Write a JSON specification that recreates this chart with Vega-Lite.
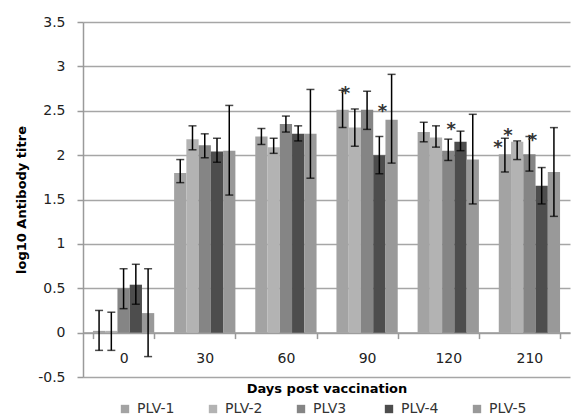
{
  "$schema": "https://vega.github.io/schema/vega-lite/v6.json",
  "width": 487,
  "height": 355,
  "autosize": "none",
  "padding": {"left": 83, "top": 22, "right": 1, "bottom": 40},
  "background": "white",
  "config": {
    "view": {"stroke": null},
    "font": "DejaVu Sans",
    "axis": {"labelFont": "DejaVu Sans", "titleFont": "DejaVu Sans"}
  },
  "datasets": {
    "bars": [
      {"day": "0", "series": "PLV-1", "value": 0.02, "lo": -0.2, "hi": 0.25},
      {"day": "0", "series": "PLV-2", "value": 0.02, "lo": -0.2, "hi": 0.23},
      {"day": "0", "series": "PLV3", "value": 0.5, "lo": 0.27, "hi": 0.72},
      {"day": "0", "series": "PLV-4", "value": 0.54, "lo": 0.32, "hi": 0.77},
      {"day": "0", "series": "PLV-5", "value": 0.22, "lo": -0.27, "hi": 0.72},
      {"day": "30", "series": "PLV-1", "value": 1.8, "lo": 1.69, "hi": 1.95},
      {"day": "30", "series": "PLV-2", "value": 2.18, "lo": 2.06, "hi": 2.33},
      {"day": "30", "series": "PLV3", "value": 2.11, "lo": 1.97, "hi": 2.24},
      {"day": "30", "series": "PLV-4", "value": 2.04, "lo": 1.92, "hi": 2.19},
      {"day": "30", "series": "PLV-5", "value": 2.05, "lo": 1.55, "hi": 2.56},
      {"day": "60", "series": "PLV-1", "value": 2.21, "lo": 2.12, "hi": 2.3},
      {"day": "60", "series": "PLV-2", "value": 2.09, "lo": 2.02, "hi": 2.19},
      {"day": "60", "series": "PLV3", "value": 2.35, "lo": 2.26, "hi": 2.44},
      {"day": "60", "series": "PLV-4", "value": 2.24, "lo": 2.16, "hi": 2.33},
      {"day": "60", "series": "PLV-5", "value": 2.24, "lo": 1.74, "hi": 2.74},
      {"day": "90", "series": "PLV-1", "value": 2.51, "lo": 2.31, "hi": 2.73},
      {"day": "90", "series": "PLV-2", "value": 2.31, "lo": 2.1, "hi": 2.52},
      {"day": "90", "series": "PLV3", "value": 2.51, "lo": 2.29, "hi": 2.72},
      {"day": "90", "series": "PLV-4", "value": 2.0, "lo": 1.79, "hi": 2.21},
      {"day": "90", "series": "PLV-5", "value": 2.4, "lo": 1.91, "hi": 2.91},
      {"day": "120", "series": "PLV-1", "value": 2.26, "lo": 2.15, "hi": 2.37},
      {"day": "120", "series": "PLV-2", "value": 2.2, "lo": 2.09, "hi": 2.33},
      {"day": "120", "series": "PLV3", "value": 2.05, "lo": 1.94, "hi": 2.18},
      {"day": "120", "series": "PLV-4", "value": 2.15, "lo": 2.05, "hi": 2.27},
      {"day": "120", "series": "PLV-5", "value": 1.95, "lo": 1.45, "hi": 2.46},
      {"day": "210", "series": "PLV-1", "value": 2.01, "lo": 1.81, "hi": 2.19},
      {"day": "210", "series": "PLV-2", "value": 2.15, "lo": 1.95, "hi": 2.16},
      {"day": "210", "series": "PLV3", "value": 2.01, "lo": 1.82, "hi": 2.21},
      {"day": "210", "series": "PLV-4", "value": 1.655, "lo": 1.45, "hi": 1.86},
      {"day": "210", "series": "PLV-5", "value": 1.81, "lo": 1.31, "hi": 2.31}
    ],
    "stars": [
      {"day": "90", "series": "PLV-1", "y": 2.74},
      {"day": "90", "series": "PLV-4", "y": 2.54},
      {"day": "120", "series": "PLV3", "y": 2.34},
      {"day": "210", "series": "PLV-1", "y": 2.27},
      {"day": "210", "series": "PLV3", "y": 2.22}
    ],
    "stars_left": [
      {"day": "210", "series": "PLV-1", "y": 2.14}
    ]
  },
  "encoding": {
    "x": {
      "field": "day",
      "type": "nominal",
      "sort": ["0", "30", "60", "90", "120", "210"],
      "scale": {"paddingInner": 0.245, "paddingOuter": 0.1225},
      "axis": {
        "title": "Days post vaccination",
        "titleFontSize": 13,
        "titleFontWeight": "bold",
        "titleColor": "#000000",
        "titlePadding": 17,
        "labelAngle": 0,
        "labelFontSize": 14,
        "labelColor": "#222222",
        "labelPadding": 13,
        "offset": -44.4,
        "tickBand": "extent",
        "tickSize": 6,
        "tickColor": "#9a9a9a",
        "tickWidth": 1.5,
        "domainColor": "#9a9a9a",
        "domainWidth": 1.5,
        "grid": false
      }
    },
    "xOffset": {
      "field": "series",
      "type": "nominal",
      "sort": ["PLV-1", "PLV-2", "PLV3", "PLV-4", "PLV-5"],
      "scale": {"paddingInner": 0, "paddingOuter": 0}
    }
  },
  "layer": [
    {
      "data": {"name": "bars"},
      "mark": {"type": "bar"},
      "encoding": {
        "y": {
          "field": "value",
          "type": "quantitative",
          "scale": {"domain": [-0.5, 3.5], "nice": false, "zero": false},
          "axis": {
            "title": "log10 Antibody titre",
            "titleFontSize": 13,
            "titleFontWeight": "bold",
            "titleColor": "#000000",
            "titlePadding": 9,
            "values": [-0.5, 0, 0.5, 1, 1.5, 2, 2.5, 3, 3.5],
            "labelExpr": "datum.value < 0 ? '-' + format(-datum.value, '') : format(datum.value, '')",
            "labelFontSize": 14,
            "labelColor": "#222222",
            "labelPadding": 12,
            "tickSize": 6,
            "tickColor": "#9a9a9a",
            "tickWidth": 1.5,
            "domainColor": "#9a9a9a",
            "domainWidth": 1.5,
            "gridColor": "#a6a6a6",
            "gridWidth": 1.5,
            "gridOpacity": 1
          }
        },
        "y2": {"datum": 0},
        "color": {
          "field": "series",
          "type": "nominal",
          "sort": ["PLV-1", "PLV-2", "PLV3", "PLV-4", "PLV-5"],
          "scale": {
            "domain": ["PLV-1", "PLV-2", "PLV3", "PLV-4", "PLV-5"],
            "range": ["#a3a3a3", "#b3b3b3", "#858585", "#4d4d4d", "#999999"]
          },
          "legend": {
            "title": null,
            "orient": "none",
            "direction": "horizontal",
            "columns": 5,
            "gridAlign": "all",
            "legendX": 35,
            "legendY": 380,
            "symbolType": "square",
            "symbolSize": 70,
            "symbolStrokeWidth": 0,
            "labelFontSize": 14,
            "labelColor": "#333333",
            "labelOffset": 5,
            "columnPadding": 31
          }
        }
      }
    },
    {
      "data": {"name": "bars"},
      "mark": {"type": "rule", "color": "#000000", "strokeWidth": 1.5},
      "encoding": {
        "y": {"field": "lo", "type": "quantitative"},
        "y2": {"field": "hi"}
      }
    },
    {
      "data": {"name": "bars"},
      "mark": {"type": "tick", "color": "#000000", "size": 8, "thickness": 1.5},
      "encoding": {
        "y": {"field": "lo", "type": "quantitative"}
      }
    },
    {
      "data": {"name": "bars"},
      "mark": {"type": "tick", "color": "#000000", "size": 8, "thickness": 1.5},
      "encoding": {
        "y": {"field": "hi", "type": "quantitative"}
      }
    },
    {
      "data": {"name": "stars"},
      "mark": {"type": "text", "text": "*", "fontSize": 18, "fontWeight": "bold", "color": "#333333", "baseline": "middle", "dy": 5, "dx": 3},
      "encoding": {
        "y": {"field": "y", "type": "quantitative"}
      }
    },
    {
      "data": {"name": "stars_left"},
      "mark": {"type": "text", "text": "*", "fontSize": 18, "fontWeight": "bold", "color": "#333333", "baseline": "middle", "dy": 5, "dx": -7},
      "encoding": {
        "y": {"field": "y", "type": "quantitative"}
      }
    }
  ]
}
